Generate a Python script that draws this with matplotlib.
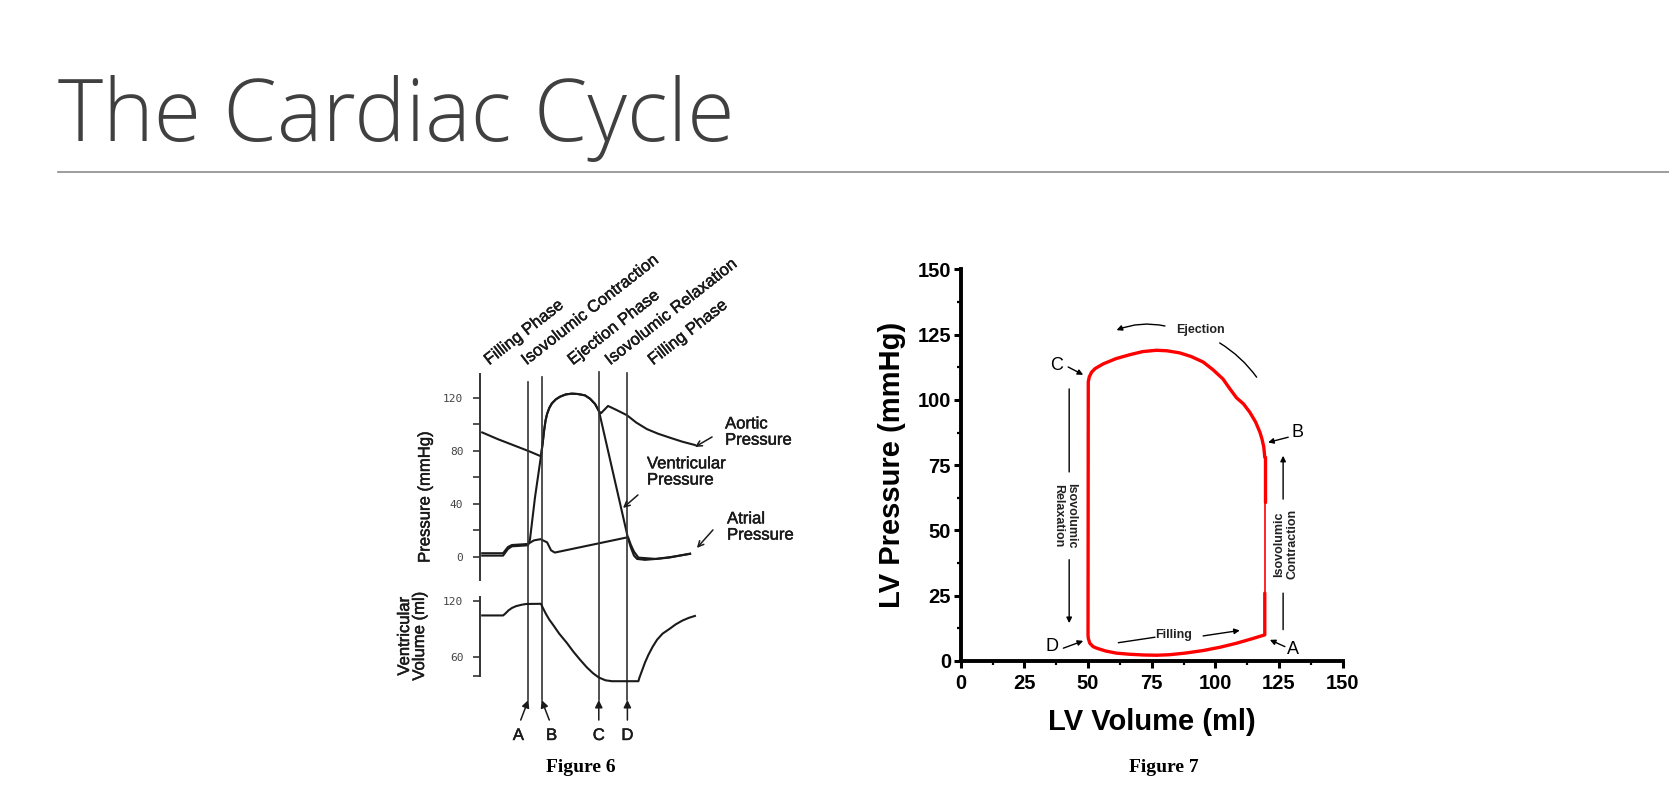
import matplotlib
matplotlib.use("Agg")
import matplotlib.pyplot as plt
import matplotlib.patheffects as pe
from matplotlib.ticker import MultipleLocator

# ---------------- Figure 6: Wiggers diagram (time in arbitrary units) ----------------
phase_times = [22, 28, 54, 67]          # A, B, C, D
phase_tops = [0.961, 0.985, 1.010, 1.005]
phase_letters = ["A", "B", "C", "D"]
phase_names = ["Filling Phase", "Isovolumic Contraction", "Ejection Phase",
               "Isovolumic Relaxation", "Filling Phase"]
phase_name_t = [5, 22, 43, 60, 79.5]

aortic_t = [1, 8, 15, 22, 27.7, 28.5, 29.1, 29.8, 30.5, 31.5, 32.7, 34.5, 36.4, 39, 41.8, 44.5,
            47.7, 50, 52.3, 54.1, 55, 58.2, 62, 66.8, 71, 75.9, 81, 86.4, 92, 97.7]
aortic_p = [94, 89, 84.5, 80, 76, 86, 95, 103, 108, 112.5, 116, 119, 121, 122.7, 123.3, 123,
            122, 119.5, 115.5, 110, 108.5, 114, 111, 107, 101.5, 96.5, 93, 90, 87, 84.5]

vent_t = [1, 10.5, 12.7, 14.5, 21.8, 22.7, 25, 27.7, 28.5, 29.1, 29.8, 30.5, 31.5, 32.7, 34.5,
          36.4, 39, 41.8, 44.5, 47.7, 50, 52.3, 54.1,
          67.3, 68.6, 70, 71.4, 75, 80, 87, 95.5]
vent_p = [1, 1, 6, 8, 8.8, 13, 45, 76, 86, 95, 103, 108, 112.5, 116, 119,
          121, 122.7, 123.3, 123, 122, 119.5, 115.5, 110,
          14, 7, 1, -1.5, -2.2, -1.5, 0, 2.3]

atrial_t = [1, 10.5, 12.7, 14.5, 21.8, 24.5, 27.5, 30.5, 32.3, 34, 67.3, 68.6, 70, 72, 80, 86, 95.5]
atrial_p = [2.8, 2.8, 7.5, 9, 9.8, 12.5, 13.4, 11, 5, 3.3, 14.9, 9, 4, -0.5, -1.5, -0.5, 2.5]

vol_t = [1, 10.5, 11.5, 13, 14.5, 16.4, 19, 21, 27.7, 28.5, 30, 31.5, 33.2, 36, 39.5, 42.5, 45.5,
         48.5, 51.4, 54, 57, 60, 72, 72.5, 73.6, 75, 76.5, 78.5, 80.5, 83, 86.4, 89, 92, 95, 97.7]
vol_v = [104.5, 104.5, 106.5, 110, 112.5, 114.5, 116, 116.8, 117, 113, 106, 100, 94.5, 85, 75, 65.5,
         57, 49, 42.5, 38, 35, 34, 34, 38, 45, 54, 62, 71, 78.5, 85, 90.5, 95, 99, 102, 104]

# ---------------- Figure 7: LV pressure-volume loop ----------------
# B -> C (ejection), C -> D, D -> A (filling), A -> B
loop_v = [119.4, 119.0, 118.3, 117.5, 115.8, 113.5, 111.0, 108.3, 105.5, 103.0, 99.0, 95.2, 90.5,
          86.0, 81.0, 76.9, 71.5, 66.4, 61.0, 56.0, 52.8, 51.4, 50.5, 50.1,
          50.0, 50.1, 50.7, 52.0, 53.4, 57.0, 61.2, 66.0, 71.7, 77.0, 82.0, 88.0, 95.2, 102.0,
          108.3, 114.0, 119.4, 119.4]
loop_p = [78, 82, 85, 87.6, 91.5, 95.3, 98.5, 100.8, 104.5, 108, 111.6, 114.5, 116.6,
          118, 118.8, 119, 118.5, 117.3, 115.8, 113.8, 112, 110.6, 108.8, 107,
          10, 8.7, 6.8, 5.5, 4.9, 3.8, 3.0, 2.6, 2.3, 2.2, 2.4, 3.0, 4.0, 5.3,
          6.8, 8.4, 10, 26]
thin_v = [119.4, 119.4]
thin_p = [26, 61]
thick_v = [119.4, 119.4]
thick_p = [61, 78]

fig = plt.figure(figsize=(16.69, 7.98), dpi=100)

# slide title + rule
fig.text(0.035, 0.8227, "The Cardiac Cycle", fontsize=62, family="Open Sans",
         weight="light", color="#404040", va="baseline", ha="left")
fig.add_artist(plt.Line2D([0.035, 1.0], [0.7845, 0.7845], color="#8c8c8c", lw=1.2))

ink = "#1a1a1a"
sans = "Liberation Sans"
scan = [pe.withStroke(linewidth=0.35, foreground=ink)]   # scanned text looks a bit heavier
scan_txt = dict(fontsize=12, family=sans, color=ink, path_effects=scan)

# ----- pressure panel -----
axp = fig.add_axes([0.2876, 0.2732, 0.1318, 0.2581])
axp.set_xlim(0, 100)
axp.set_ylim(-17.4, 138.1)
for tt, pp in [(aortic_t, aortic_p), (vent_t, vent_p), (atrial_t, atrial_p)]:
    axp.plot(tt, pp, color=ink, lw=1.5, clip_on=False, solid_joinstyle="round")
for s in ["top", "right", "bottom"]:
    axp.spines[s].set_visible(False)
axp.spines["left"].set_color("#333333")
axp.spines["left"].set_linewidth(1.4)
axp.set_xticks([])
axp.set_yticks([0, 40, 80, 120])
axp.set_yticks([20, 60, 100], minor=True)
axp.tick_params(axis="y", which="both", direction="out", length=5, width=1.2, color="#333333",
                labelsize=8, labelcolor="#444444", pad=7)
for lab in axp.get_yticklabels():
    lab.set_family("DejaVu Sans Mono")
axp.set_facecolor("none")

# ----- volume panel -----
axv = fig.add_axes([0.2876, 0.1529, 0.1318, 0.0990])
axv.set_xlim(0, 100)
axv.set_ylim(39.6, 124.3)
axv.plot(vol_t, vol_v, color=ink, lw=1.5, clip_on=False, solid_joinstyle="round")
for s in ["top", "right", "bottom"]:
    axv.spines[s].set_visible(False)
axv.spines["left"].set_color("#333333")
axv.spines["left"].set_linewidth(1.4)
axv.set_xticks([])
axv.set_yticks([60, 120])
axv.set_yticks([40], minor=True)
axv.tick_params(axis="y", which="both", direction="out", length=5, width=1.2, color="#333333",
                labelsize=8, labelcolor="#444444", pad=7)
for lab in axv.get_yticklabels():
    lab.set_family("DejaVu Sans Mono")
axv.set_facecolor("none")

# phase boundary lines, markers and labels
trans = axp.get_xaxis_transform()
for t, top, letter in zip(phase_times, phase_tops, phase_letters):
    axp.plot([t, t], [-0.5825, top], transform=trans, color="#333333", lw=1.2, clip_on=False)
    dx = {"A": -3.5, "B": 3.5}.get(letter, 0)
    axp.annotate("", xy=(t, -0.5825), xytext=(t + dx, -0.68), xycoords=trans, textcoords=trans,
                 arrowprops=dict(arrowstyle="-|>", color=ink, lw=1.1, mutation_scale=11,
                                 shrinkA=0, shrinkB=0), annotation_clip=False)
    axp.text(t + dx * 1.3, -0.755, letter, transform=trans, ha="center", va="center", **scan_txt)
for t, name in zip(phase_name_t, phase_names):
    axp.text(t, 1.03, name, transform=trans, rotation=38, rotation_mode="anchor",
             ha="left", va="bottom", **scan_txt)

curve_labels = [("Aortic\nPressure", 111.4, 94.3, (105.5, 90.6), (97.7, 83)),
                ("Ventricular\nPressure", 75.9, 64.2, (71.8, 46.8), (65, 37)),
                ("Atrial\nPressure", 112.3, 22.6, (105.9, 20.4), (98.6, 6.8))]
for txt, tx, ty, a0, a1 in curve_labels:
    axp.text(tx, ty, txt, ha="left", va="center", linespacing=1.1, clip_on=False, **scan_txt)
    axp.annotate("", xy=a1, xytext=a0, arrowprops=dict(arrowstyle="->", color=ink, lw=1.1,
                 shrinkA=0, shrinkB=0), annotation_clip=False)

fig.text(425 / 1669, 1 - 497 / 798, "Pressure (mmHg)", rotation=90, ha="center", va="center",
         **scan_txt)
fig.text(412 / 1669, 1 - 636 / 798, "Ventricular\nVolume (ml)", rotation=90, ha="center",
         va="center", linespacing=1.0, **scan_txt)
fig.text(581 / 1669, 1 - 768 / 798, "Figure 6", ha="center", va="center", fontsize=14,
         family="Liberation Serif", weight="bold", color="black")

# ----- Figure 7 -----
ax7 = fig.add_axes([0.5756, 0.1717, 0.2289, 0.4908])
ax7.plot(loop_v, loop_p, color="#ff0000", lw=2.4, solid_joinstyle="round", solid_capstyle="round")
ax7.plot(thin_v, thin_p, color="#ff0000", lw=1.2)
ax7.plot(thick_v, thick_p, color="#ff0000", lw=2.4, solid_capstyle="round")
ax7.set_xlim(0, 150)
ax7.set_ylim(0, 150)
ax7.xaxis.set_major_locator(MultipleLocator(25))
ax7.xaxis.set_minor_locator(MultipleLocator(12.5))
ax7.yaxis.set_major_locator(MultipleLocator(25))
ax7.yaxis.set_minor_locator(MultipleLocator(12.5))
for s in ["top", "right"]:
    ax7.spines[s].set_visible(False)
for s in ["left", "bottom"]:
    ax7.spines[s].set_linewidth(2.8)
ax7.tick_params(which="major", direction="out", length=5, width=2.2, pad=2)
ax7.tick_params(axis="x", which="major", pad=4.5)
ax7.tick_params(which="minor", direction="out", length=3, width=1.6)
for lab in ax7.get_xticklabels() + ax7.get_yticklabels():
    lab.set_family(sans)
    lab.set_weight("bold")
    lab.set_fontsize(14.5)
ax7.set_xlabel("LV Volume (ml)", family=sans, weight="bold", fontsize=21, labelpad=10.5)
ax7.set_ylabel("LV Pressure (mmHg)", family=sans, weight="bold", fontsize=21, labelpad=8.5)

small = dict(family=sans, weight="bold", fontsize=9, color="#222222")
arrow = dict(arrowstyle="-|>", color="black", lw=1.0, mutation_scale=8, shrinkA=0, shrinkB=0)
line = dict(arrowstyle="-", color="black", lw=1.0, shrinkA=0, shrinkB=0)

ax7.text(94, 126.7, "Ejection", ha="center", va="center", **small)
ax7.annotate("", xy=(61.2, 126.7), xytext=(80.2, 128.3),
             arrowprops=dict(arrow, connectionstyle="arc3,rad=0.15"))
ax7.annotate("", xy=(116.2, 108.7), xytext=(101.7, 121.8),
             arrowprops=dict(line, connectionstyle="arc3,rad=-0.1"))

ax7.text(83.7, 10, "Filling", ha="center", va="center", **small)
ax7.annotate("", xy=(76.3, 9.1), xytext=(61.9, 7), arrowprops=line)
ax7.annotate("", xy=(109.6, 11.7), xytext=(95.2, 9.6), arrowprops=arrow)

ax7.text(40.7, 55.8, "Isovolumic\nRelaxation", rotation=270, ha="center", va="center",
         linespacing=1.1, **small)
ax7.annotate("", xy=(42.6, 72.4), xytext=(42.6, 104.2), arrowprops=line)
ax7.annotate("", xy=(42.6, 14.5), xytext=(42.6, 38.8), arrowprops=arrow)

ax7.text(127.7, 44.7, "Isovolumic\nContraction", rotation=90, ha="center", va="center",
         linespacing=1.1, **small)
ax7.annotate("", xy=(126.6, 12), xytext=(126.6, 26), arrowprops=line)
ax7.annotate("", xy=(126.6, 78.6), xytext=(126.6, 62), arrowprops=arrow)

corner_labels = [("C", 37.6, 113.2, (42.2, 112.6), (48.1, 109.6)),
                 ("B", 132.2, 87.6, (128.6, 85.7), (120.7, 83.7)),
                 ("D", 35.7, 5.5, (40.3, 4.9), (48.1, 7.7)),
                 ("A", 130.3, 4.5, (127.3, 5.5), (121.4, 8.1))]
for letter, lx, ly, a0, a1 in corner_labels:
    ax7.text(lx, ly, letter, ha="center", va="center", family=sans, fontsize=13, color="black")
    ax7.annotate("", xy=a1, xytext=a0, arrowprops=arrow, annotation_clip=False)

fig.text(1163.4 / 1669, 1 - 768 / 798, "Figure 7", ha="center", va="center", fontsize=14,
         family="Liberation Serif", weight="bold", color="black")

fig.savefig("out.png", dpi=100)
